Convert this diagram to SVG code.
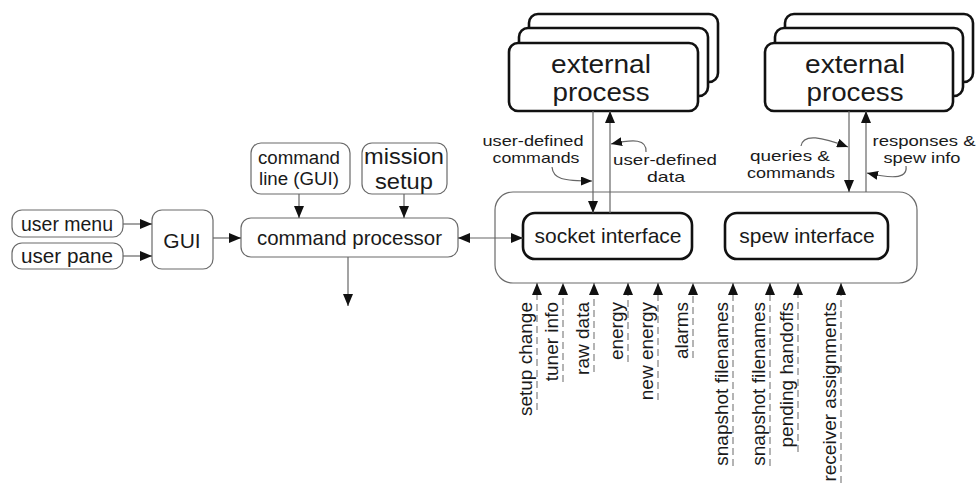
<svg xmlns="http://www.w3.org/2000/svg" width="978" height="483" viewBox="0 0 978 483">
<style>
  text { font-family: "Liberation Sans", Arial, sans-serif; fill: #1a1a1a; }
  .box { fill: #fff; stroke: #6a6a6a; stroke-width: 1.2; }
  .bold { fill: #fff; stroke: #111; stroke-width: 2.6; }
  .c { fill: none; stroke: #666; stroke-width: 1.2; }
  .d { fill: none; stroke: #777; stroke-width: 1.1; stroke-dasharray: 7 4; }
  .m { text-anchor: middle; }
  .lbl { font-size: 15px; text-anchor: middle; }
  .vl { font-size: 19px; text-anchor: end; }
</style>
<defs>
  <marker id="ah" markerWidth="12" markerHeight="10" refX="12" refY="5" orient="auto-start-reverse" markerUnits="userSpaceOnUse">
    <path d="M0,0 L12,5 L0,10 z" fill="#111"/>
  </marker>
  <marker id="ahs" markerWidth="11" markerHeight="9" refX="11" refY="4.5" orient="auto" markerUnits="userSpaceOnUse">
    <path d="M0,0 L11,4.5 L0,9 z" fill="#111"/>
  </marker>
</defs>

<g id="container">
  <rect class="box" x="495" y="192" width="422" height="91" rx="18"/>
</g>

<g id="user-menu">
  <rect class="box" x="12" y="210" width="111" height="27" rx="10"/>
  <text x="67" y="231" font-size="20" class="m" textLength="92" lengthAdjust="spacingAndGlyphs">user menu</text>
</g>
<g id="user-pane">
  <rect class="box" x="12" y="243" width="111" height="26" rx="10"/>
  <text x="67" y="263" font-size="20" class="m" textLength="92" lengthAdjust="spacingAndGlyphs">user pane</text>
</g>
<g id="gui">
  <rect class="box" x="152" y="210" width="61" height="59" rx="10"/>
  <text x="182" y="248" font-size="21" class="m">GUI</text>
</g>
<g id="command-line">
  <rect class="box" x="251" y="143" width="99" height="51" rx="10"/>
  <text font-size="18" class="m"><tspan x="299" y="164" textLength="82" lengthAdjust="spacingAndGlyphs">command</tspan><tspan x="299" y="185" textLength="80" lengthAdjust="spacingAndGlyphs">line (GUI)</tspan></text>
</g>
<g id="mission-setup">
  <rect class="box" x="362" y="143" width="85" height="51" rx="10"/>
  <text font-size="22" class="m"><tspan x="404" y="164" textLength="80" lengthAdjust="spacingAndGlyphs">mission</tspan><tspan x="404" y="189" textLength="58" lengthAdjust="spacingAndGlyphs">setup</tspan></text>
</g>
<g id="command-processor">
  <rect class="box" x="241" y="218" width="217" height="39" rx="10"/>
  <text x="349.5" y="245" font-size="21" class="m" textLength="185" lengthAdjust="spacingAndGlyphs">command processor</text>
</g>
<g id="socket-interface">
  <rect class="bold" x="523" y="213" width="169" height="46" rx="12"/>
  <text x="608" y="243" font-size="21" class="m">socket interface</text>
</g>
<g id="spew-interface">
  <rect class="bold" x="725" y="213" width="163" height="46" rx="12"/>
  <text x="807" y="243" font-size="21" class="m">spew interface</text>
</g>
<g id="external-process-1">
  <rect class="bold" x="529" y="14" width="189" height="68" rx="9"/>
  <rect class="bold" x="519" y="28" width="189" height="68" rx="9"/>
  <rect class="bold" x="509" y="43" width="189" height="68" rx="9"/>
  <text font-size="25" class="m"><tspan x="601" y="73" textLength="100" lengthAdjust="spacingAndGlyphs">external</tspan><tspan x="601" y="101" textLength="97" lengthAdjust="spacingAndGlyphs">process</tspan></text>
</g>
<g id="external-process-2">
  <rect class="bold" x="785" y="14" width="188" height="68" rx="9"/>
  <rect class="bold" x="775" y="28" width="188" height="68" rx="9"/>
  <rect class="bold" x="765" y="43" width="188" height="68" rx="9"/>
  <text font-size="25" class="m"><tspan x="855" y="73" textLength="100" lengthAdjust="spacingAndGlyphs">external</tspan><tspan x="855" y="101" textLength="97" lengthAdjust="spacingAndGlyphs">process</tspan></text>
</g>

<g id="labels">
  <text class="lbl"><tspan x="533" y="146" textLength="101" lengthAdjust="spacingAndGlyphs">user-defined</tspan><tspan x="536" y="163" textLength="87" lengthAdjust="spacingAndGlyphs">commands</tspan></text>
  <text class="lbl"><tspan x="665" y="165" textLength="104" lengthAdjust="spacingAndGlyphs">user-defined</tspan><tspan x="666" y="182" textLength="38" lengthAdjust="spacingAndGlyphs">data</tspan></text>
  <text class="lbl"><tspan x="790" y="161" textLength="80" lengthAdjust="spacingAndGlyphs">queries &amp;</tspan><tspan x="791" y="178" textLength="88" lengthAdjust="spacingAndGlyphs">commands</tspan></text>
  <text class="lbl"><tspan x="924" y="146" textLength="103" lengthAdjust="spacingAndGlyphs">responses &amp;</tspan><tspan x="922" y="163" textLength="77" lengthAdjust="spacingAndGlyphs">spew info</tspan></text>
</g>

<g id="connectors">
  <line class="c" x1="123" y1="224" x2="152" y2="224" marker-end="url(#ah)"/>
  <line class="c" x1="123" y1="256" x2="152" y2="256" marker-end="url(#ah)"/>
  <line class="c" x1="213" y1="238" x2="241" y2="238" marker-end="url(#ah)"/>
  <line class="c" x1="299" y1="194" x2="299" y2="218" marker-end="url(#ah)"/>
  <line class="c" x1="404" y1="194" x2="404" y2="218" marker-end="url(#ah)"/>
  <line class="c" x1="348" y1="257" x2="348" y2="306" marker-end="url(#ah)"/>
  <line class="c" x1="458" y1="238" x2="523" y2="238" marker-start="url(#ah)" marker-end="url(#ah)"/>
  <line class="c" x1="593" y1="111" x2="593" y2="213" marker-end="url(#ah)"/>
  <line class="c" x1="610" y1="213" x2="610" y2="111" marker-end="url(#ah)"/>
  <line class="c" x1="849" y1="111" x2="849" y2="192" marker-end="url(#ah)"/>
  <line class="c" x1="866" y1="192" x2="866" y2="111" marker-end="url(#ah)"/>
  <path class="c" d="M552,167 C553,179 563,181 592,181" marker-end="url(#ahs)"/>
  <path class="c" d="M646,152 C647,139 634,139 611,144" marker-end="url(#ahs)"/>
  <path class="c" d="M801,146 C803,133 822,137 848,147" marker-end="url(#ahs)"/>
  <path class="c" d="M906,166 C908,180 889,178 867,173" marker-end="url(#ahs)"/>
  <line class="d" x1="537" y1="410" x2="537" y2="283" marker-end="url(#ah)"/>
  <line class="d" x1="563" y1="382" x2="563" y2="283" marker-end="url(#ah)"/>
  <line class="d" x1="594" y1="372" x2="594" y2="283" marker-end="url(#ah)"/>
  <line class="d" x1="628" y1="362" x2="628" y2="283" marker-end="url(#ah)"/>
  <line class="d" x1="658" y1="400" x2="658" y2="283" marker-end="url(#ah)"/>
  <line class="d" x1="693" y1="358" x2="693" y2="283" marker-end="url(#ah)"/>
  <line class="d" x1="733" y1="466" x2="733" y2="283" marker-end="url(#ah)"/>
  <line class="d" x1="770" y1="466" x2="770" y2="283" marker-end="url(#ah)"/>
  <line class="d" x1="798" y1="452" x2="798" y2="283" marker-end="url(#ah)"/>
  <line class="d" x1="841" y1="483" x2="841" y2="283" marker-end="url(#ah)"/>
</g>

<g id="input-labels">
  <text class="vl" transform="translate(532,302) rotate(-90)">setup change</text>
  <text class="vl" transform="translate(558,302) rotate(-90)">tuner info</text>
  <text class="vl" transform="translate(589,302) rotate(-90)">raw data</text>
  <text class="vl" transform="translate(623,302) rotate(-90)">energy</text>
  <text class="vl" transform="translate(653,302) rotate(-90)">new energy</text>
  <text class="vl" transform="translate(688,302) rotate(-90)">alarms</text>
  <text class="vl" transform="translate(728,302) rotate(-90)">snapshot filenames</text>
  <text class="vl" transform="translate(765,302) rotate(-90)">snapshot filenames</text>
  <text class="vl" transform="translate(793,302) rotate(-90)">pending handoffs</text>
  <text class="vl" transform="translate(836,302) rotate(-90)">receiver assignments</text>
</g>
</svg>
